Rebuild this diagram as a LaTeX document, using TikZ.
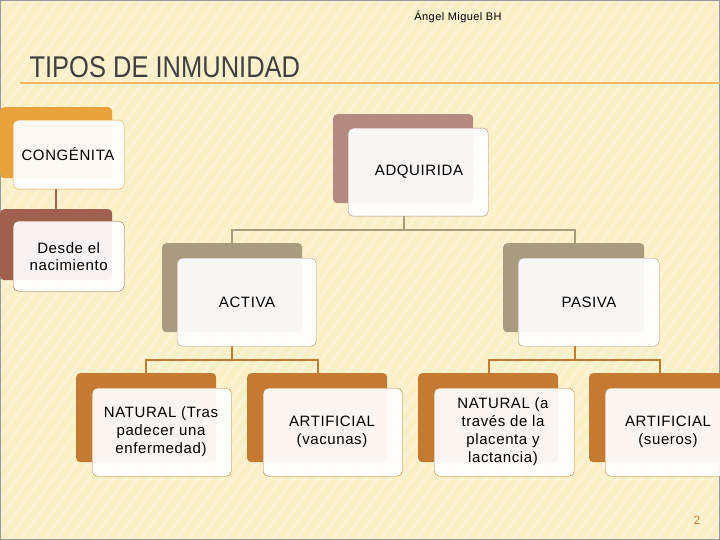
\documentclass[tikz,border=0pt]{standalone}
\usepackage{fontspec}
\setmainfont[LetterSpace=4]{Liberation Sans}
\newfontfamily\titlefont[FakeStretch=0.85]{Liberation Sans}
\usetikzlibrary{positioning}
\definecolor{bgcream}{HTML}{FBEFC8}
\definecolor{orangeA}{HTML}{E8A33A}
\definecolor{brownA}{HTML}{A0604E}
\definecolor{roseA}{HTML}{B38A80}
\definecolor{khakiA}{HTML}{A89B7E}
\definecolor{copperA}{HTML}{C47A30}
\tikzset{
  backbox/.style={fill=#1, rounded corners=4pt, anchor=north west, inner sep=0pt},
  frontbox/.style={fill=white, fill opacity=0.93, text opacity=1, draw=#1, rounded corners=5pt, anchor=north west, inner sep=0pt, align=center, font=\fontsize{15}{17}\selectfont},
  link/.style={draw=#1, line width=2.5pt}
}
\begin{document}
\begin{tikzpicture}[x=1pt,y=1pt,yscale=-1]
\useasboundingbox (0,0) rectangle (720,540);
%background
\fill[bgcream] (0,0) rectangle (720,540);
\foreach \i in {0,12,...,1200}
  \draw[white, opacity=0.25, line width=3pt] (\i-400,540) -- (\i,0);
\draw[black!40] (0.5,0.5) rectangle (719.5,539.5);

% Text Node
\node[font=\fontsize{11}{13}\selectfont] (author) at (458,17) {Ángel Miguel BH};
% Text Node
\node[anchor=west, font=\titlefont\fontsize{30}{32}\selectfont, text=black!75] (title) at (26,67) {TIPOS DE INMUNIDAD};
\draw[orangeA!70!bgcream, line width=1.5pt] (20,83) -- (720,83);

%links
\draw[link=brownA] (56,189) -- (56,209);
\draw[link=khakiA] (404,216) -- (404,230) (232,230) -- (575,230) (232,229) -- (232,243) (575,229) -- (575,243);
\draw[link=copperA] (232,346) -- (232,360) (146,360) -- (318,360) (146,359) -- (146,373) (318,359) -- (318,373);
\draw[link=copperA] (575,346) -- (575,360) (489,360) -- (660,360) (489,359) -- (489,373) (660,359) -- (660,373);

%back boxes
\node[backbox=orangeA, minimum width=112, minimum height=71] (congb) at (0,107) {};
\node[backbox=brownA, minimum width=112, minimum height=71] (desdeb) at (0,209) {};
\node[backbox=roseA, minimum width=140, minimum height=89] (adqb) at (333,114) {};
\node[backbox=khakiA, minimum width=140, minimum height=89] (actb) at (162,243) {};
\node[backbox=khakiA, minimum width=141, minimum height=89] (pasb) at (503,243) {};
\foreach \x/\n in {76/ntb,247/avb,418/npb,589/asb}
  \node[backbox=copperA, minimum width=140, minimum height=89] (\n) at (\x,373) {};

%front boxes
\node[frontbox=orangeA, minimum width=111, minimum height=69] (cong) at (13,120) {};
\node at (68,154) {\fontsize{15}{17}\selectfont CONGÉNITA};
\node[frontbox=brownA, minimum width=111, minimum height=70, align=center] (desde) at (13,221) {Desde el\\nacimiento};
\node[frontbox=roseA, minimum width=140, minimum height=88] (adq) at (348,128) {};
\node[font=\fontsize{15}{17}\selectfont] at (419,172) {ADQUIRIDA};
\node[frontbox=khakiA, minimum width=139, minimum height=88] (act) at (177,258) {};
\node[font=\fontsize{15}{17}\selectfont] at (247,302) {ACTIVA};
\node[frontbox=khakiA, minimum width=141, minimum height=88] (pas) at (518,258) {};
\node[font=\fontsize{15}{17}\selectfont] at (589,302) {PASIVA};
\node[frontbox=copperA, minimum width=139, minimum height=88] (nt) at (92,388) {};
\node[font=\fontsize{15}{18}\selectfont, align=center] at (161,432) {NATURAL (Tras\\padecer una\\enfermedad)};
\node[frontbox=copperA, minimum width=139, minimum height=88] (av) at (263,388) {};
\node[font=\fontsize{15}{18}\selectfont, align=center] at (332,432) {ARTIFICIAL\\(vacunas)};
\node[frontbox=copperA, minimum width=140, minimum height=88] (np) at (434,388) {};
\node[font=\fontsize{15}{18}\selectfont, align=center] at (503,432) {NATURAL (a\\través de la\\placenta y\\lactancia)};
\node[frontbox=copperA, minimum width=140, minimum height=88] (as) at (605,388) {};
\node[font=\fontsize{15}{18}\selectfont, align=center] at (668,432) {ARTIFICIAL\\(sueros)};

% Text Node
\node[text=copperA, font=\fontsize{12}{14}\selectfont] (page) at (697,520) {2};
\end{tikzpicture}
\end{document}
